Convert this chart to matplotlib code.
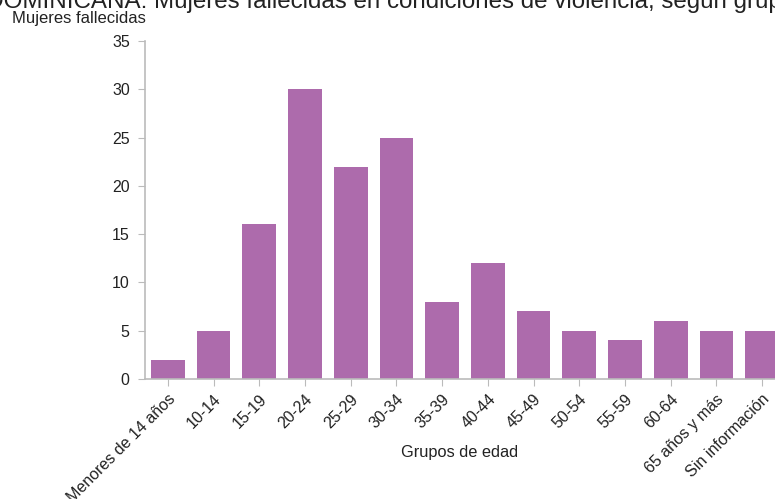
import matplotlib
matplotlib.use("Agg")
import matplotlib.pyplot as plt
import numpy as np

plt.rcParams['font.family'] = ['Liberation Sans', 'DejaVu Sans']

grupos = ['Menores de 14 años', '10-14', '15-19', '20-24', '25-29', '30-34', '35-39',
          '40-44', '45-49', '50-54', '55-59', '60-64', '65 años y más', 'Sin información']
mujeres = [2, 5, 16, 30, 22, 25, 8, 12, 7, 5, 4, 6, 5, 5]

titulo = 'REPÚBLICA DOMINICANA: Mujeres fallecidas en condiciones de violencia, según grupos de edad'

fig = plt.figure(figsize=(7.75, 4.99), dpi=100)
ax = fig.add_axes([145/775, 1 - 379/499, 640/775, 338/499])

x = np.arange(len(grupos))
ax.bar(x, mujeres, width=0.74, color='#ad6bac')

ax.set_xlim(-0.5, len(grupos) - 0.5)
ax.set_ylim(0, 35)
ax.set_yticks(range(0, 36, 5))
ax.set_xticks(x)
ax.set_xticklabels(grupos, rotation=45, ha='right', rotation_mode='anchor')

for s in ['top', 'right']:
    ax.spines[s].set_visible(False)
for s in ['left', 'bottom']:
    ax.spines[s].set_color('#bbbbbb')
    ax.spines[s].set_linewidth(1.2)
ax.tick_params(colors='#bbbbbb', labelcolor='#222222', labelsize=11.5, length=5)
ax.tick_params(axis='y', pad=6)
ax.tick_params(axis='x', pad=4)

ax.set_xlabel('Grupos de edad', fontsize=11.8, color='#222222')
ax.xaxis.set_label_coords((460 - 145) / 640, -66 / 338)
fig.text(12/775, 1 - 18/499, 'Mujeres fallecidas', fontsize=12, color='#222222', va='center')
fig.text(-156/775, 1, titulo, fontsize=17.4, color='#222222', va='center')

fig.savefig('out.png', dpi=100)
